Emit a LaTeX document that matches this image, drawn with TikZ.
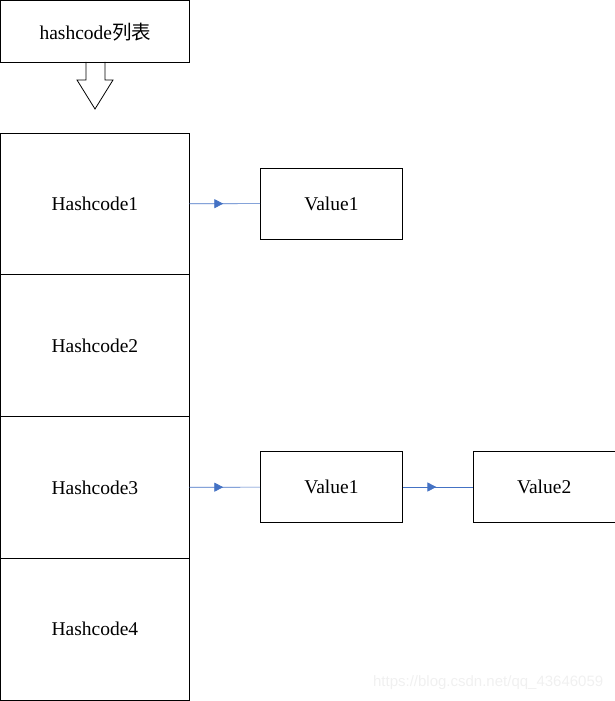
\documentclass[tikz,border=0pt]{standalone}
\usepackage{fontspec}
\setmainfont{Liberation Serif}
\newfontfamily\cjkfont{Noto Sans CJK SC}
\newfontfamily\markfont{Liberation Sans}
\usetikzlibrary{positioning}
\usetikzlibrary{arrows.meta}
\usetikzlibrary{decorations.markings}
\definecolor{linkblue}{RGB}{68,114,196}

\begin{document}
\begin{tikzpicture}[x=1pt,y=-1pt,line width=0.8pt,font=\fontsize{19.5}{23}\selectfont,
  cell/.style={rectangle,draw,minimum width=189pt,minimum height=141.75pt,inner sep=0pt,outer sep=0pt},
  valbox/.style={rectangle,draw,minimum width=142pt,minimum height=71pt,inner sep=0pt},
  link/.style={draw=linkblue,line width=0.7pt,postaction={decorate},
    decoration={markings,mark=at position 0.48 with {\arrow[linkblue]{Triangle[length=9pt,width=9pt]}}}}]
\useasboundingbox (0,0) rectangle (615,701);
\node [rectangle,draw,minimum width=189pt,minimum height=62pt,inner sep=0pt,anchor=north west] (title) at (0.4,0.4) {hashcode{\cjkfont 列表}};
\draw (86,62) -- (86,80) -- (77,80) -- (95,109) -- (113,80) -- (105,80) -- (105,62);
\node [cell,anchor=north west] (h1) at (0.4,133) {Hashcode1};
\node [cell,below=0pt of h1] (h2) {Hashcode2};
\node [cell,below=0pt of h2] (h3) {Hashcode3};
\node [cell,below=0pt of h3] (h4) {Hashcode4};
\node [valbox,anchor=west] (v1) at (260,203.5) {Value1};
\node [valbox,anchor=west] (v3) at (260,487) {Value1};
\node [valbox,right=70pt of v3] (v4) {Value2};
\node [text=gray!12,font=\markfont\fontsize{15}{18}\selectfont,anchor=east] (mark) at (607,683) {https://blog.csdn.net/qq\_43646059};

\draw [link] (h1) -- (v1);
\draw [link] (h3) -- (v3);
\draw [link] (v3) -- (v4);
\end{tikzpicture}
\end{document}
